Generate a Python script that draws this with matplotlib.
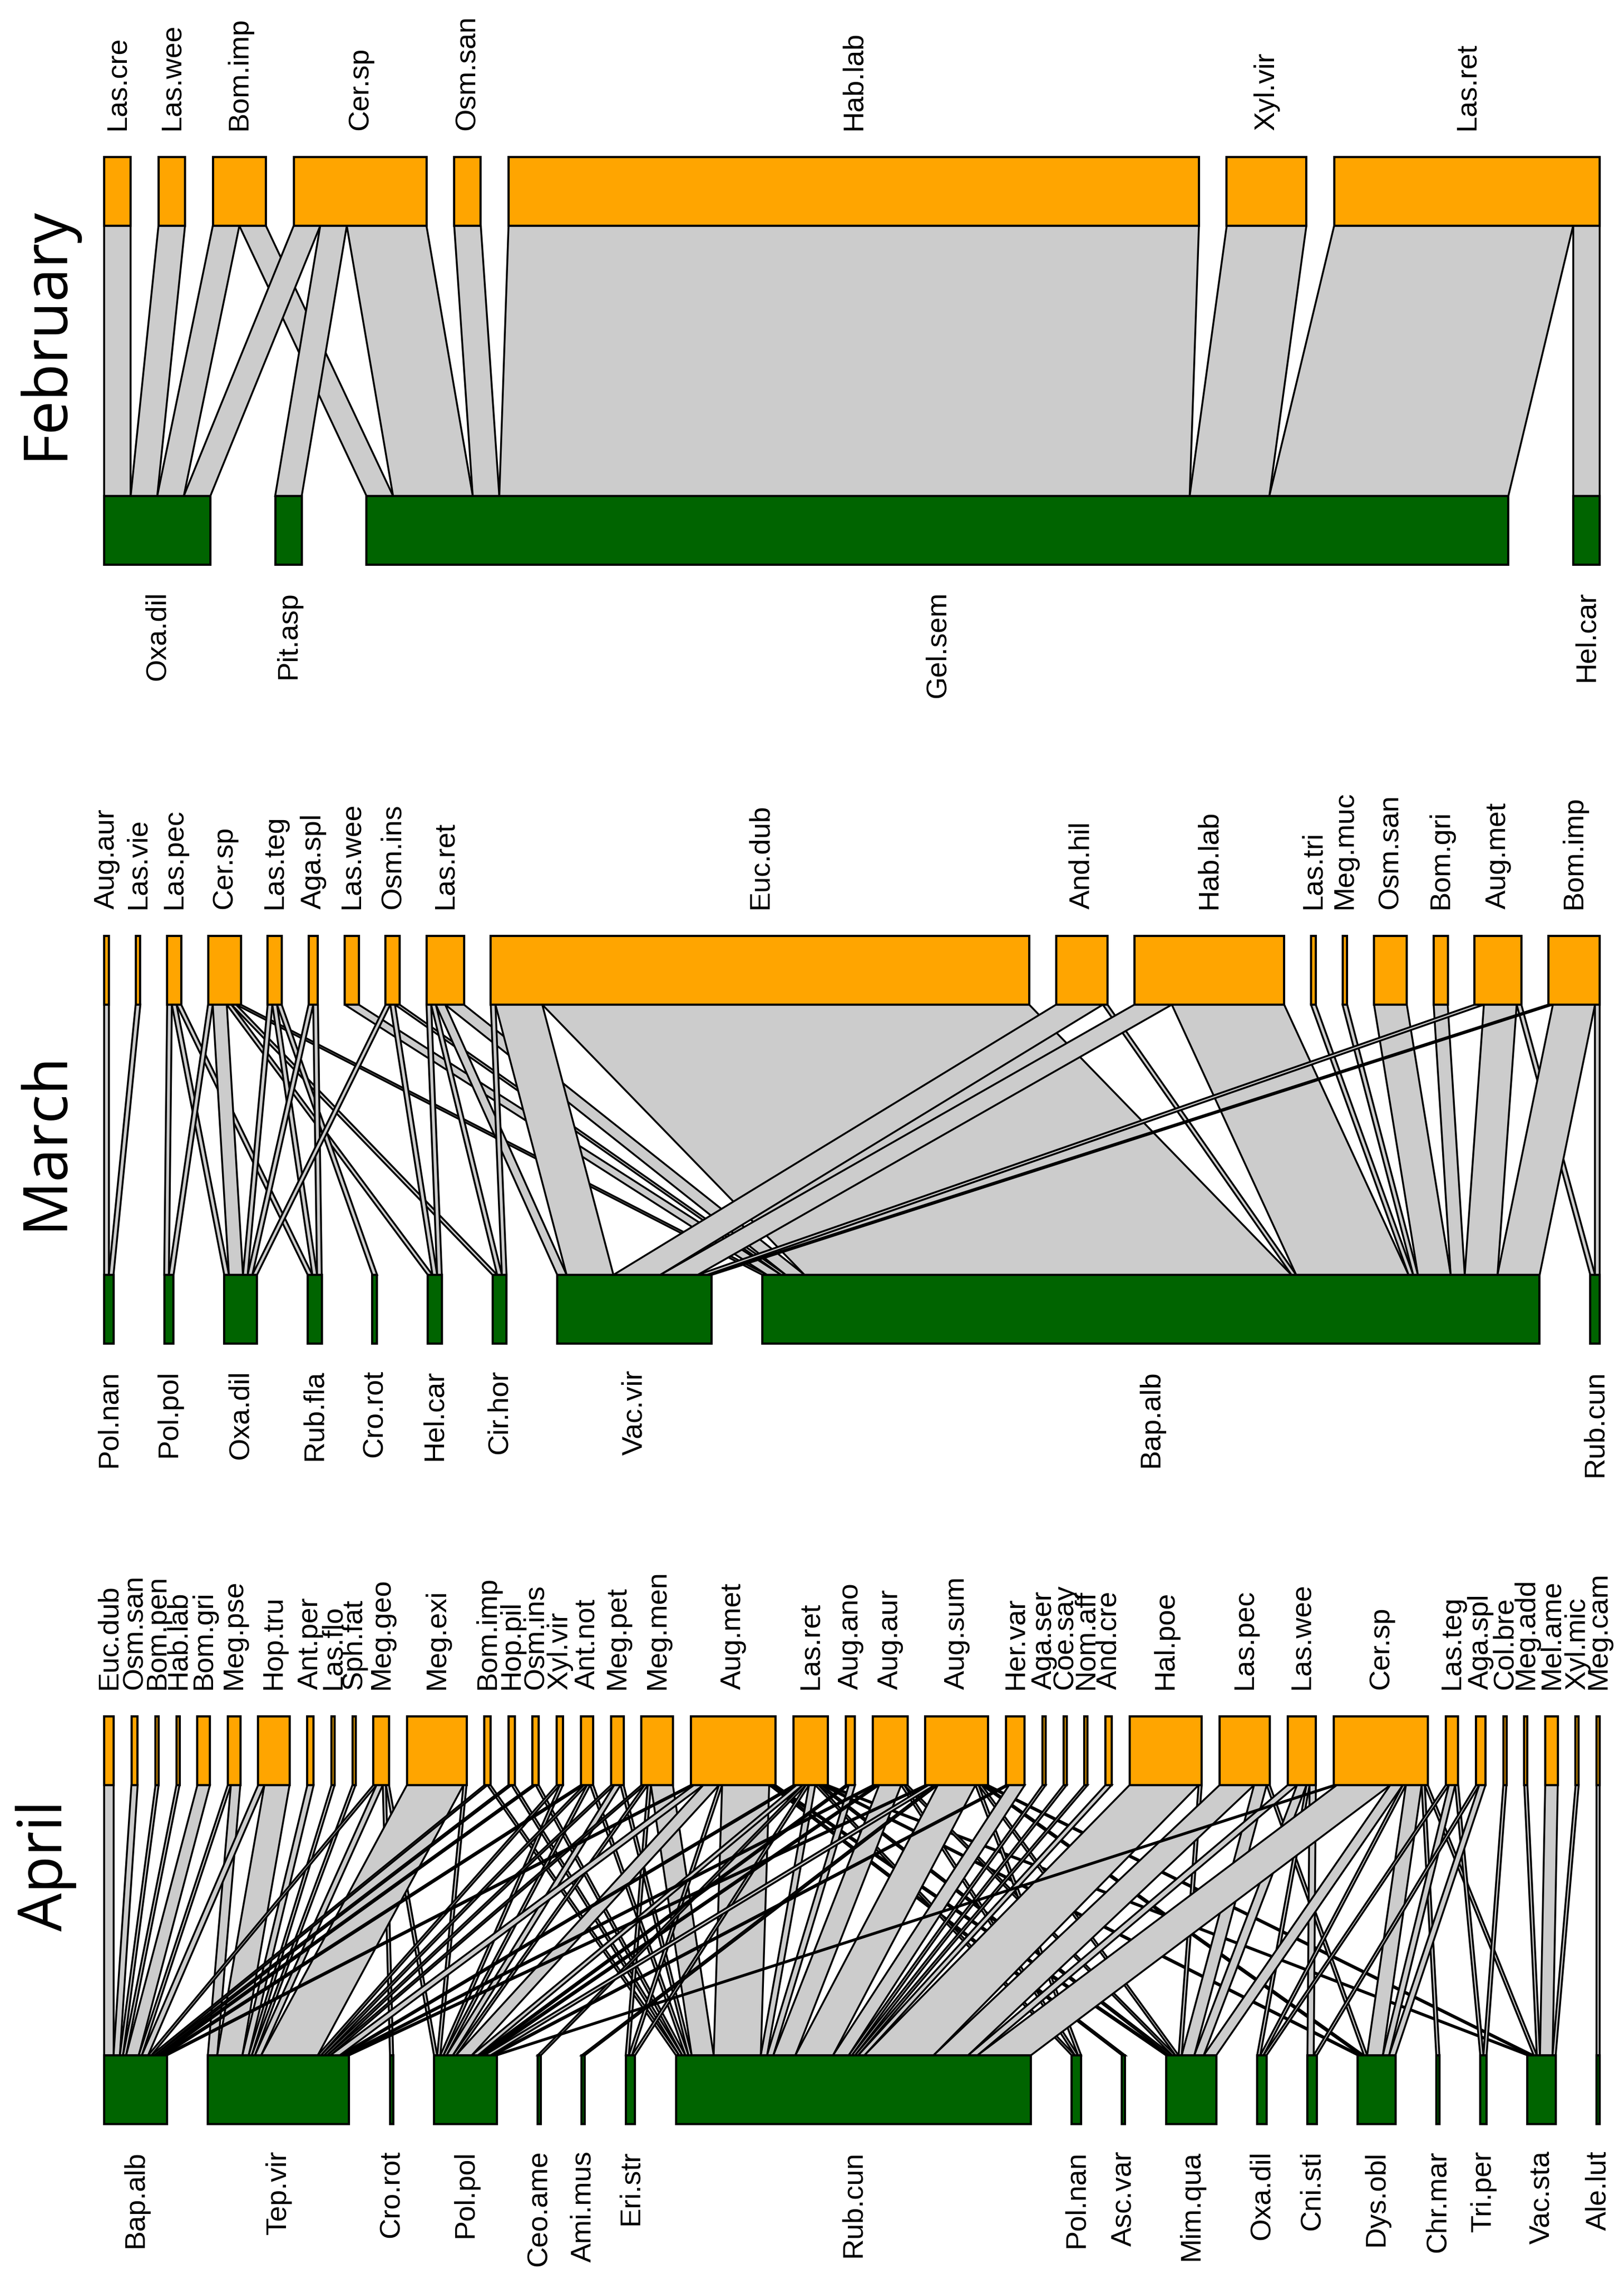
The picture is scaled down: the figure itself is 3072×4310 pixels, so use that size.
import matplotlib
matplotlib.use("Agg")
import matplotlib.pyplot as plt
from matplotlib.patches import Polygon, Rectangle

# ---------------- data ----------------
feb_bees = ["Las.cre", "Las.wee", "Bom.imp", "Cer.sp", "Osm.san", "Hab.lab", "Xyl.vir", "Las.ret"]
feb_plants = ["Oxa.dil", "Pit.asp", "Gel.sem", "Hel.car"]
feb_links = [
    ("Oxa.dil", "Las.cre", 1), ("Oxa.dil", "Las.wee", 1), ("Oxa.dil", "Bom.imp", 1), ("Oxa.dil", "Cer.sp", 1),
    ("Pit.asp", "Cer.sp", 1),
    ("Gel.sem", "Bom.imp", 1), ("Gel.sem", "Cer.sp", 3), ("Gel.sem", "Osm.san", 1), ("Gel.sem", "Hab.lab", 26),
    ("Gel.sem", "Xyl.vir", 3), ("Gel.sem", "Las.ret", 9),
    ("Hel.car", "Las.ret", 1),
]

mar_bees = ["Aug.aur", "Las.vie", "Las.pec", "Cer.sp", "Las.teg", "Aga.spl", "Las.wee", "Osm.ins", "Las.ret",
            "Euc.dub", "And.hil", "Hab.lab", "Las.tri", "Meg.muc", "Osm.san", "Bom.gri", "Aug.met", "Bom.imp"]
mar_plants = ["Pol.nan", "Pol.pol", "Oxa.dil", "Rub.fla", "Cro.rot", "Hel.car", "Cir.hor", "Vac.vir", "Bap.alb", "Rub.cun"]
mar_links = [
    ("Pol.nan", "Aug.aur", 1), ("Pol.nan", "Las.vie", 1),
    ("Pol.pol", "Las.pec", 1), ("Pol.pol", "Cer.sp", 1),
    ("Oxa.dil", "Las.pec", 1), ("Oxa.dil", "Cer.sp", 3), ("Oxa.dil", "Las.teg", 1),
    ("Oxa.dil", "Aga.spl", 1), ("Oxa.dil", "Osm.ins", 1),
    ("Rub.fla", "Las.pec", 1), ("Rub.fla", "Las.teg", 1), ("Rub.fla", "Aga.spl", 1),
    ("Cro.rot", "Las.teg", 1),
    ("Hel.car", "Cer.sp", 1), ("Hel.car", "Osm.ins", 1), ("Hel.car", "Las.ret", 1),
    ("Cir.hor", "Cer.sp", 1), ("Cir.hor", "Las.ret", 1), ("Cir.hor", "Euc.dub", 1),
    ("Vac.vir", "Las.ret", 2), ("Vac.vir", "Euc.dub", 10), ("Vac.vir", "And.hil", 10), ("Vac.vir", "Hab.lab", 8),
    ("Vac.vir", "Aug.met", 2), ("Vac.vir", "Bom.imp", 1),
    ("Bap.alb", "Cer.sp", 1), ("Bap.alb", "Las.wee", 3), ("Bap.alb", "Osm.ins", 1), ("Bap.alb", "Las.ret", 4),
    ("Bap.alb", "Euc.dub", 104), ("Bap.alb", "And.hil", 1), ("Bap.alb", "Hab.lab", 24), ("Bap.alb", "Las.tri", 1),
    ("Bap.alb", "Meg.muc", 1), ("Bap.alb", "Osm.san", 7), ("Bap.alb", "Bom.gri", 3), ("Bap.alb", "Aug.met", 7),
    ("Bap.alb", "Bom.imp", 9),
    ("Rub.cun", "Aug.met", 1), ("Rub.cun", "Bom.imp", 1),
]

apr_bees = ["Euc.dub", "Osm.san", "Bom.pen", "Hab.lab", "Bom.gri", "Meg.pse", "Hop.tru", "Ant.per", "Las.flo",
            "Sph.fat", "Meg.geo", "Meg.exi", "Bom.imp", "Hop.pil", "Osm.ins", "Xyl.vir", "Ant.not", "Meg.pet",
            "Meg.men", "Aug.met", "Las.ret", "Aug.ano", "Aug.aur", "Aug.sum", "Her.var", "Aga.ser", "Coe.say",
            "Nom.aff", "And.cre", "Hal.poe", "Las.pec", "Las.wee", "Cer.sp", "Las.teg", "Aga.spl", "Col.bre",
            "Meg.add", "Mel.ame", "Xyl.mic", "Meg.cam"]
apr_plants = ["Bap.alb", "Tep.vir", "Cro.rot", "Pol.pol", "Ceo.ame", "Ami.mus", "Eri.str", "Rub.cun", "Pol.nan",
              "Asc.var", "Mim.qua", "Oxa.dil", "Cni.sti", "Dys.obl", "Chr.mar", "Tri.per", "Vac.sta", "Ale.lut"]
apr_links = [
    ("Bap.alb", "Euc.dub", 3), ("Bap.alb", "Osm.san", 2), ("Bap.alb", "Bom.pen", 1), ("Bap.alb", "Hab.lab", 1),
    ("Bap.alb", "Bom.gri", 4), ("Bap.alb", "Meg.pse", 1), ("Bap.alb", "Hop.tru", 2), ("Bap.alb", "Meg.geo", 1),
    ("Bap.alb", "Bom.imp", 1), ("Bap.alb", "Hop.pil", 1), ("Bap.alb", "Osm.ins", 1), ("Bap.alb", "Ant.not", 1),
    ("Bap.alb", "Aug.met", 1),
    ("Tep.vir", "Meg.pse", 3), ("Tep.vir", "Hop.tru", 8), ("Tep.vir", "Ant.per", 2), ("Tep.vir", "Las.flo", 1),
    ("Tep.vir", "Sph.fat", 1), ("Tep.vir", "Meg.geo", 2), ("Tep.vir", "Meg.exi", 18), ("Tep.vir", "Xyl.vir", 1),
    ("Tep.vir", "Ant.not", 1), ("Tep.vir", "Meg.pet", 1), ("Tep.vir", "Meg.men", 1), ("Tep.vir", "Aug.met", 3),
    ("Tep.vir", "Las.ret", 1), ("Tep.vir", "Aug.aur", 1), ("Tep.vir", "Aug.sum", 1),
    ("Cro.rot", "Meg.geo", 1),
    ("Pol.pol", "Meg.geo", 1), ("Pol.pol", "Meg.exi", 1), ("Pol.pol", "Xyl.vir", 1), ("Pol.pol", "Ant.not", 1),
    ("Pol.pol", "Meg.pet", 2), ("Pol.pol", "Meg.men", 1), ("Pol.pol", "Aug.met", 5), ("Pol.pol", "Las.ret", 2),
    ("Pol.pol", "Aug.ano", 1), ("Pol.pol", "Aug.aur", 1), ("Pol.pol", "Aug.sum", 2), ("Pol.pol", "Her.var", 1),
    ("Pol.pol", "Cer.sp", 1),
    ("Ceo.ame", "Las.ret", 1),
    ("Ami.mus", "Aug.sum", 1),
    ("Eri.str", "Meg.men", 1), ("Eri.str", "Aug.met", 1), ("Eri.str", "Las.ret", 1),
    ("Rub.cun", "Bom.imp", 1), ("Rub.cun", "Hop.pil", 1), ("Rub.cun", "Osm.ins", 1), ("Rub.cun", "Ant.not", 1),
    ("Rub.cun", "Meg.pet", 1), ("Rub.cun", "Meg.men", 7), ("Rub.cun", "Aug.met", 15), ("Rub.cun", "Las.ret", 2),
    ("Rub.cun", "Aug.ano", 2), ("Rub.cun", "Aug.aur", 7), ("Rub.cun", "Aug.sum", 12), ("Rub.cun", "Her.var", 5),
    ("Rub.cun", "Aga.ser", 1), ("Rub.cun", "Coe.say", 1), ("Rub.cun", "Nom.aff", 1), ("Rub.cun", "And.cre", 2),
    ("Rub.cun", "Hal.poe", 22), ("Rub.cun", "Las.pec", 11), ("Rub.cun", "Las.wee", 3), ("Rub.cun", "Cer.sp", 17),
    ("Pol.nan", "Las.ret", 1), ("Pol.nan", "Aug.aur", 1), ("Pol.nan", "Aug.sum", 1),
    ("Asc.var", "Aug.met", 1),
    ("Mim.qua", "Aug.met", 1), ("Mim.qua", "Las.ret", 1), ("Mim.qua", "Aug.aur", 1), ("Mim.qua", "Aug.sum", 1),
    ("Mim.qua", "Hal.poe", 1), ("Mim.qua", "Las.pec", 4), ("Mim.qua", "Las.wee", 3), ("Mim.qua", "Cer.sp", 4),
    ("Oxa.dil", "Las.wee", 1), ("Oxa.dil", "Cer.sp", 1), ("Oxa.dil", "Las.teg", 1),
    ("Cni.sti", "Las.wee", 2), ("Cni.sti", "Aga.spl", 1),
    ("Dys.obl", "Las.ret", 1), ("Dys.obl", "Aug.sum", 1), ("Dys.obl", "Las.pec", 1), ("Dys.obl", "Cer.sp", 5),
    ("Dys.obl", "Las.teg", 2), ("Dys.obl", "Aga.spl", 2),
    ("Chr.mar", "Cer.sp", 1),
    ("Tri.per", "Las.teg", 1), ("Tri.per", "Col.bre", 1),
    ("Vac.sta", "Las.ret", 1), ("Vac.sta", "Aug.sum", 1), ("Vac.sta", "Cer.sp", 1), ("Vac.sta", "Meg.add", 1),
    ("Vac.sta", "Mel.ame", 4), ("Vac.sta", "Xyl.mic", 1),
    ("Ale.lut", "Meg.cam", 1),
]

months = ["February", "March", "April"]

# ---------------- layout / style ----------------
W_PX, H_PX, DPI = 3072, 4310, 300
X0, X1 = 197, 3026
BOX_H, LINK_H = 130, 511
panel_top = [297, 1770, 3246]
panel_gap = [0.130, 0.305, 0.4645]
title_y = [630, 2157, 3528]
HIGH_COL, LOW_COL, LINK_COL = "#FFA500", "#006400", "#CCCCCC"
FONT = "Liberation Sans"
TITLE_FONT = ["Open Sans", "DejaVu Sans"]

fig = plt.figure(figsize=(W_PX / DPI, H_PX / DPI), dpi=DPI)
ax = fig.add_axes([0, 0, 1, 1])
ax.set_xlim(0, W_PX)
ax.set_ylim(H_PX, 0)
ax.axis("off")

data = [(feb_bees, feb_plants, feb_links), (mar_bees, mar_plants, mar_links), (apr_bees, apr_plants, apr_links)]

for k, (bees, plants, links) in enumerate(data):
    M = {}
    for pl, b, n in links:
        M[(pl, b)] = M.get((pl, b), 0) + n
    bee_tot = {b: sum(M.get((pl, b), 0) for pl in plants) for b in bees}
    pl_tot = {pl: sum(M.get((pl, b), 0) for b in bees) for pl in plants}
    T = sum(bee_tot.values())
    W = X1 - X0
    G = panel_gap[k] * W
    unit = (W - G) / T
    gt = G / (len(bees) - 1)
    gb = G / (len(plants) - 1)

    yt0 = panel_top[k]
    yt1 = yt0 + BOX_H
    yb0 = yt1 + LINK_H
    yb1 = yb0 + BOX_H

    bx = {}
    x = X0
    for b in bees:
        bx[b] = x
        x += bee_tot[b] * unit + gt
    px = {}
    x = X0
    for pl in plants:
        px[pl] = x
        x += pl_tot[pl] * unit + gb

    tseg = {}
    for b in bees:
        x = bx[b]
        for pl in plants:
            n = M.get((pl, b), 0)
            if n:
                tseg[(pl, b)] = (x, x + n * unit)
                x += n * unit
    bseg = {}
    for pl in plants:
        x = px[pl]
        for b in bees:
            n = M.get((pl, b), 0)
            if n:
                bseg[(pl, b)] = (x, x + n * unit)
                x += n * unit

    for b in bees:
        for pl in plants:
            if (pl, b) in M:
                a1, a2 = tseg[(pl, b)]
                c1, c2 = bseg[(pl, b)]
                ax.add_patch(Polygon([(a1, yt1), (a2, yt1), (c2, yb0), (c1, yb0)], closed=True,
                                     facecolor=LINK_COL, edgecolor="black", linewidth=0.85, zorder=2))

    for b in bees:
        w = bee_tot[b] * unit
        ax.add_patch(Rectangle((bx[b], yt0), w, BOX_H, facecolor=HIGH_COL, edgecolor="black",
                               linewidth=1.0, zorder=3))
        ax.text(bx[b] + w / 2, yt0 - 51, b, rotation=90, rotation_mode="anchor", ha="left", va="center",
                fontsize=13, family=FONT, zorder=4)
    for pl in plants:
        w = pl_tot[pl] * unit
        ax.add_patch(Rectangle((px[pl], yb0), w, BOX_H, facecolor=LOW_COL, edgecolor="black",
                               linewidth=1.0, zorder=3))
        ax.text(px[pl] + w / 2, yb1 + 50, pl, rotation=90, rotation_mode="anchor", ha="right", va="center",
                fontsize=13, family=FONT, zorder=4)

    ax.text(117, title_y[k], months[k], rotation=90, rotation_mode="anchor", ha="center", va="baseline",
            fontsize=27.5, family=TITLE_FONT)

fig.savefig("out.png", dpi=DPI, facecolor="white")
